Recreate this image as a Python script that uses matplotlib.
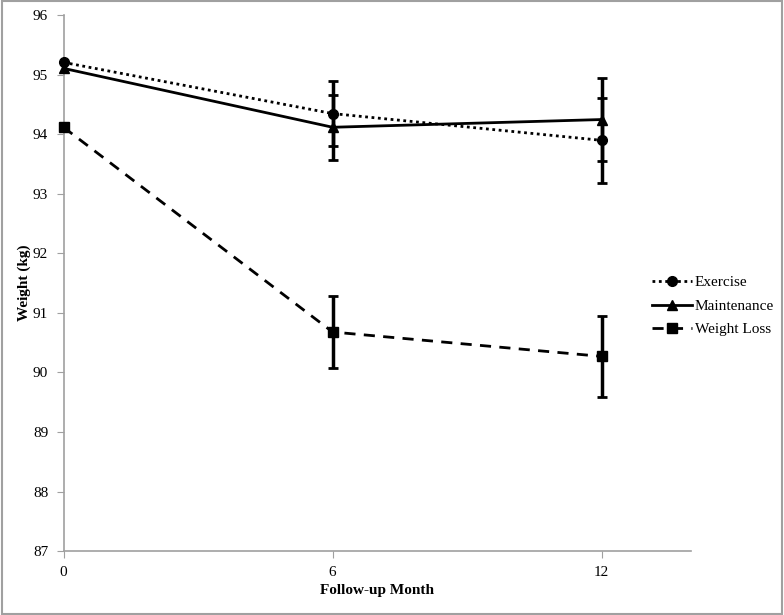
import matplotlib.pyplot as plt
from matplotlib.patches import Rectangle

months = [0, 6, 12]
exercise = [95.21, 94.35, 93.90]
exercise_err = [0.0, 0.55, 0.72]
maintenance = [95.11, 94.12, 94.25]
maintenance_err = [0.0, 0.55, 0.69]
weight_loss = [94.12, 90.68, 90.27]
weight_loss_err = [0.0, 0.60, 0.68]

plt.rcParams["font.family"] = ["Liberation Serif", "DejaVu Serif"]

fig = plt.figure(figsize=(7.84, 6.15), dpi=100)
ax = fig.add_axes([0.081, 0.104, 0.801, 0.871])

series = [
    ("Exercise", exercise, exercise_err, (0, (1, 1.3)), "o"),
    ("Maintenance", maintenance, maintenance_err, "-", "^"),
    ("Weight Loss", weight_loss, weight_loss_err, (0, (4, 3)), "s"),
]
for name, vals, errs, ls, mk in series:
    ax.plot(months, vals, color="black", linestyle=ls, linewidth=2,
            marker=mk, markersize=7, label=name, clip_on=False, zorder=3)
    ax.errorbar(months[1:], vals[1:], yerr=errs[1:], fmt="none", ecolor="black",
                elinewidth=2.5, capsize=3.5, capthick=2)

ax.set_xlim(0, 14)
ax.set_ylim(87, 96)
ax.set_xticks(months)
ax.set_yticks(range(87, 97))
for s in ["top", "right"]:
    ax.spines[s].set_visible(False)
for s in ["left", "bottom"]:
    ax.spines[s].set_color("#a0a0a0")
    ax.spines[s].set_linewidth(1.2)
ax.tick_params(direction="out", length=5, color="#a0a0a0", labelsize=11, pad=6)

ax.set_xlabel("Follow-up Month", fontsize=11, fontweight="bold")
ax.set_ylabel("Weight (kg)", fontsize=11, fontweight="bold")
ax.xaxis.set_label_coords(0.5, -0.062)
ax.yaxis.set_label_coords(-0.051, 0.5)

ax.legend(loc="center left", bbox_to_anchor=(652 / 784, 1 - 306 / 615),
          bbox_transform=fig.transFigure, frameon=False, fontsize=11,
          handlelength=2.6, handletextpad=0.2, labelspacing=0.65,
          borderaxespad=0, borderpad=0)

fig.patches.append(Rectangle((0.002, 0.002), 0.996, 0.996, transform=fig.transFigure,
                             fill=False, edgecolor="#a0a0a0", linewidth=1.5))

fig.savefig("out.png", dpi=100)
